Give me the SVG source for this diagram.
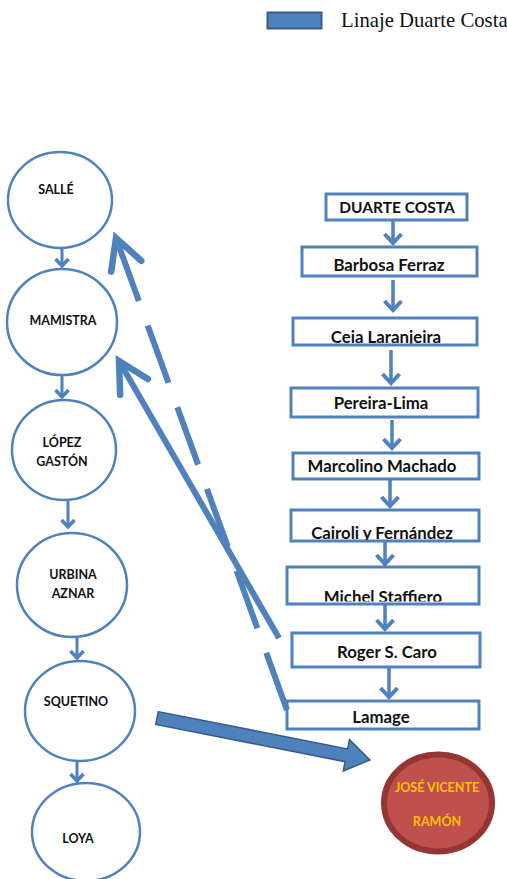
<svg xmlns="http://www.w3.org/2000/svg" width="507" height="879" viewBox="0 0 507 879">
<style>
.circ{fill:#fff;stroke:#4F81BD;stroke-width:2.5}
.box{fill:#fff;stroke:#4F81BD;stroke-width:3}
.ct{font-family:Lato,"Liberation Sans",sans-serif;font-weight:bold;font-size:12.5px;fill:#111;text-anchor:middle}
.bt{font-family:Lato,"Liberation Sans",sans-serif;font-weight:bold;font-size:16.8px;fill:#111;text-anchor:middle}
.sm{stroke:#4F81BD;stroke-width:3;fill:none}
.bg{stroke:#4F81BD;stroke-width:3.5;fill:none}
.big{stroke:#4F81BD;stroke-width:6;fill:none}
</style>
<defs>
<marker id="chevS" markerUnits="userSpaceOnUse" orient="auto" overflow="visible" markerWidth="1" markerHeight="1" refX="0" refY="0">
<path d="M-7,-6.5 L0,0 L-7,6.5" fill="none" stroke="#4F81BD" stroke-width="3.5"/>
</marker>
<marker id="chevB" markerUnits="userSpaceOnUse" orient="auto" overflow="visible" markerWidth="1" markerHeight="1" refX="0" refY="0">
<path d="M-9,-8.5 L0,0 L-9,8.5" fill="none" stroke="#4F81BD" stroke-width="4"/>
</marker>
<marker id="openArrow" markerUnits="userSpaceOnUse" orient="auto" overflow="visible" markerWidth="1" markerHeight="1" refX="0" refY="0">
<path d="M-30,-16 L0,0 L-30,16" fill="none" stroke="#4F81BD" stroke-width="6.5" stroke-linecap="round"/>
</marker>
<clipPath id="c3"><rect x="293" y="318" width="184" height="25.5"/></clipPath>
<clipPath id="c6"><rect x="291" y="510" width="188" height="30"/></clipPath>
<clipPath id="c7"><rect x="287" y="567" width="192" height="34.5"/></clipPath>
<clipPath id="c9"><rect x="287" y="701" width="192" height="25"/></clipPath>
</defs>

<g id="legend">
<rect x="267.5" y="12.5" width="54" height="16" fill="#4F81BD" stroke="#385D8A" stroke-width="2"/>
<text x="341" y="27" font-family="'Liberation Serif',serif" font-size="20.7" fill="#111">Linaje Duarte Costa</text>
</g>

<g id="salle"><ellipse class="circ" cx="60" cy="200" rx="52" ry="48"/><text class="ct" x="56" y="194">SALLÉ</text></g>
<g id="mamistra"><ellipse class="circ" cx="62" cy="322" rx="55" ry="53"/><text class="ct" x="63" y="325">MAMISTRA</text></g>
<g id="lopez"><ellipse class="circ" cx="64" cy="450" rx="52" ry="50"/><text class="ct" x="62" y="447">LÓPEZ</text><text class="ct" x="62" y="466">GASTÓN</text></g>
<g id="urbina"><ellipse class="circ" cx="72" cy="585" rx="55" ry="52"/><text class="ct" x="73" y="579">URBINA</text><text class="ct" x="73" y="598">AZNAR</text></g>
<g id="squetino"><ellipse class="circ" cx="80" cy="711" rx="55" ry="50"/><text class="ct" x="76" y="706">SQUETINO</text></g>
<g id="loya"><ellipse class="circ" cx="86" cy="832" rx="54" ry="49"/><text class="ct" x="78" y="843">LOYA</text></g>

<g id="duarte"><rect class="box" x="326" y="194" width="141" height="26"/><text class="bt" x="397" y="213" style="font-size:15.5px">DUARTE COSTA</text></g>
<g id="barbosa"><rect class="box" x="302" y="247" width="175" height="29"/><text class="bt" x="389" y="271">Barbosa Ferraz</text></g>
<g id="ceia"><rect class="box" x="293" y="318" width="184" height="27"/><text class="bt" x="386" y="343" clip-path="url(#c3)">Ceia Laranjeira</text></g>
<g id="pereira"><rect class="box" x="291" y="388" width="187" height="29"/><text class="bt" x="381" y="409">Pereira-Lima</text></g>
<g id="marcolino"><rect class="box" x="293" y="453" width="186" height="26"/><text class="bt" x="382" y="472">Marcolino Machado</text></g>
<g id="cairoli"><rect class="box" x="291" y="510" width="188" height="31"/><text class="bt" x="382" y="539" clip-path="url(#c6)">Cairoli y Fernández</text></g>
<g id="michel"><rect class="box" x="287" y="567" width="192" height="37"/><text class="bt" x="383" y="603" clip-path="url(#c7)">Michel Staffiero</text></g>
<g id="roger"><rect class="box" x="292" y="633" width="188" height="34"/><text class="bt" x="387" y="658">Roger S. Caro</text></g>
<g id="lamage"><rect class="box" x="287" y="701" width="192" height="28"/><text class="bt" x="381" y="723" clip-path="url(#c9)">Lamage</text></g>

<g id="jose">
<ellipse cx="438" cy="803" rx="54" ry="48.5" fill="#C0504D" stroke="#943634" stroke-width="6"/>
<text x="437" y="792" font-family="Lato,'Liberation Sans',sans-serif" font-weight="bold" font-size="12.5" fill="#FFC000" text-anchor="middle">JOSÉ VICENTE</text>
<text x="437" y="826" font-family="Lato,'Liberation Sans',sans-serif" font-weight="bold" font-size="12.5" fill="#FFC000" text-anchor="middle">RAMÓN</text>
</g>

<g id="connectors">
<line class="sm" x1="62" y1="249" x2="62" y2="266" marker-end="url(#chevS)"/>
<line class="sm" x1="62" y1="376" x2="62" y2="397" marker-end="url(#chevS)"/>
<line class="sm" x1="68" y1="501" x2="68" y2="527" marker-end="url(#chevS)"/>
<line class="sm" x1="77" y1="638" x2="77" y2="658" marker-end="url(#chevS)"/>
<line class="sm" x1="77" y1="762" x2="77" y2="781" marker-end="url(#chevS)"/>

<line class="bg" x1="393" y1="221" x2="393" y2="243" marker-end="url(#chevB)"/>
<line class="bg" x1="393" y1="280" x2="393" y2="310" marker-end="url(#chevB)"/>
<line class="bg" x1="391" y1="350" x2="391" y2="383" marker-end="url(#chevB)"/>
<line class="bg" x1="392" y1="420" x2="392" y2="448" marker-end="url(#chevB)"/>
<line class="bg" x1="390" y1="479" x2="390" y2="506" marker-end="url(#chevB)"/>
<line class="bg" x1="385" y1="542" x2="385" y2="564" marker-end="url(#chevB)"/>
<line class="bg" x1="385" y1="605" x2="385" y2="629" marker-end="url(#chevB)"/>
<line class="bg" x1="389" y1="668" x2="389" y2="697" marker-end="url(#chevB)"/>

<line class="big" x1="279" y1="638" x2="119" y2="361" marker-end="url(#openArrow)"/>
<line class="big" x1="287" y1="710" x2="116" y2="238" stroke-dasharray="61 26" marker-end="url(#openArrow)"/>

<polygon points="0,-6.5 193,-6.5 193,-16 217,0 193,16 193,6.5 0,6.5" transform="translate(157,718) rotate(11.15)" fill="#4F81BD" stroke="#385D8A" stroke-width="1.5"/>
</g>
</svg>
